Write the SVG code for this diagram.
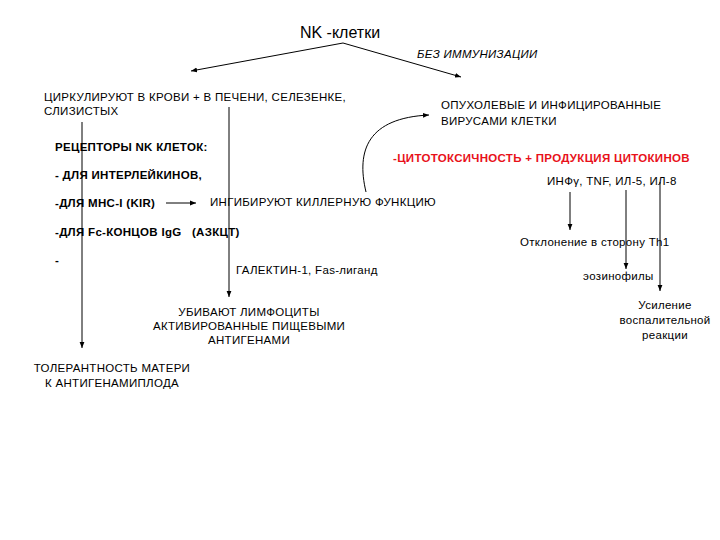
<svg xmlns="http://www.w3.org/2000/svg" width="720" height="540" viewBox="0 0 720 540">
<defs>
<marker id="ah" viewBox="0 0 10 10" refX="10" refY="5" markerWidth="6" markerHeight="6" orient="auto" markerUnits="userSpaceOnUse"><path d="M0,1 L10,5 L0,9 z" fill="#000"/></marker>
<style>
text{font-family:"Liberation Sans",Arial,sans-serif;font-size:11.5px;letter-spacing:0.3px;fill:#000;white-space:pre}
.t{font-size:16px;letter-spacing:0}
.i{font-style:italic}
.b{font-weight:bold}
.r{fill:#e8111a}
.m{text-anchor:middle}
.c{stroke:#000;stroke-width:1;fill:none;marker-end:url(#ah)}
</style>
</defs>
<rect width="720" height="540" fill="#fff"/>
<g id="connectors">
<path class="c" d="M343,43 L191,71"/>
<path class="c" d="M343,43 L461,77"/>
<path class="c" d="M82,122 L82,348"/>
<path class="c" d="M229,107 L229,297"/>
<path class="c" d="M166,203 L196,203"/>
<path class="c" d="M366,192 C356,150 368,118 429,115"/>
<path class="c" d="M570,192 L570,230"/>
<path class="c" d="M626,190 L626,269"/>
<path class="c" d="M660,182 L660,291"/>
</g>
<g id="title"><text class="t m" x="340" y="38">NK -клетки</text></g>
<g id="immun"><text class="i" x="417" y="58">БЕЗ ИММУНИЗАЦИИ</text></g>
<g id="circ"><text x="44" y="101">ЦИРКУЛИРУЮТ В КРОВИ + В ПЕЧЕНИ, СЕЛЕЗЕНКЕ,</text><text x="44" y="115">СЛИЗИСТЫХ</text></g>
<g id="tumor"><text x="441" y="109">ОПУХОЛЕВЫЕ И ИНФИЦИРОВАННЫЕ</text><text x="441" y="125">ВИРУСАМИ КЛЕТКИ</text></g>
<g id="receptors">
<text class="b" x="55" y="151">РЕЦЕПТОРЫ NK КЛЕТОК:</text>
<text class="b" x="55" y="179">- ДЛЯ ИНТЕРЛЕЙКИНОВ,</text>
<text class="b" x="55" y="207">-ДЛЯ МНС-I (KIR)</text>
<text class="b" x="55" y="236">-ДЛЯ Fc-КОНЦОВ IgG   (АЗКЦТ)</text>
<text class="b" x="55" y="264">-</text>
</g>
<g id="inhib"><text x="210" y="206">ИНГИБИРУЮТ КИЛЛЕРНУЮ ФУНКЦИЮ</text></g>
<g id="cyto"><text class="b r" x="393" y="162">-ЦИТОТОКСИЧНОСТЬ + ПРОДУКЦИЯ ЦИТОКИНОВ</text></g>
<g id="cytokines"><text x="547" y="185">ИНФγ, TNF, ИЛ-5, ИЛ-8</text></g>
<g id="th1"><text x="520" y="246">Отклонение в сторону Th1</text></g>
<g id="eos"><text x="583" y="280">эозинофилы</text></g>
<g id="inflam"><text class="m" x="665" y="309">Усиление</text><text class="m" x="665" y="324">воспалительной</text><text class="m" x="665" y="339">реакции</text></g>
<g id="galectin"><text x="236" y="274">ГАЛЕКТИН-1, Fas-лиганд</text></g>
<g id="kill"><text class="m" x="249" y="316">УБИВАЮТ ЛИМФОЦИТЫ</text><text class="m" x="249" y="330">АКТИВИРОВАННЫЕ ПИЩЕВЫМИ</text><text class="m" x="249" y="344">АНТИГЕНАМИ</text></g>
<g id="tol"><text class="m" x="112" y="372">ТОЛЕРАНТНОСТЬ МАТЕРИ</text><text class="m" x="112" y="387">К АНТИГЕНАМИПЛОДА</text></g>
</svg>
